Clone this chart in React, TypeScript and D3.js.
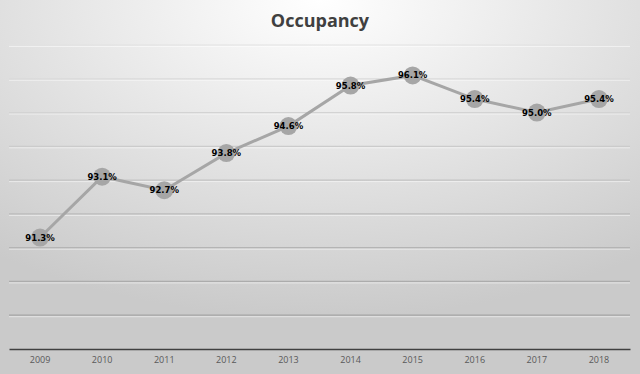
import * as d3 from 'd3';
import { useEffect, useRef } from 'react';

const years = ['2009', '2010', '2011', '2012', '2013', '2014', '2015', '2016', '2017', '2018'];
const occupancy = [91.3, 93.1, 92.7, 93.8, 94.6, 95.8, 96.1, 95.4, 95.0, 95.4];
const gridValues = [89, 90, 91, 92, 93, 94, 95, 96, 97];

const App = () => {
    const ref = useRef<SVGSVGElement>(null);
    useEffect(() => {
        const width = 640, height = 374;
        const margin = { top: 45, right: 10, bottom: 25, left: 9 };
        const svg = d3.select(ref.current);
        svg.selectAll('*').remove();

        // background gradient
        const defs = svg.append('defs');
        const grad = defs.append('radialGradient')
            .attr('id', 'bg')
            .attr('cx', '50%').attr('cy', '0%').attr('r', '85%')
            .attr('gradientUnits', 'objectBoundingBox');
        grad.append('stop').attr('offset', '0%').attr('stop-color', '#ffffff');
        grad.append('stop').attr('offset', '100%').attr('stop-color', '#cacaca');
        svg.append('rect').attr('width', width).attr('height', height).attr('fill', 'url(#bg)');

        const x: any = d3.scaleBand()
            .domain(years)
            .range([margin.left, width - margin.right]);
        const y = d3.scaleLinear()
            .domain([88, 97])
            .range([height - margin.bottom, margin.top]);

        // gridlines darken toward the bottom
        const gridColor = d3.scaleLinear<string>()
            .domain([97, 89])
            .range(['#e2e2e2', '#a4a4a4']);
        const grid = svg.append('g');
        grid.selectAll('line.hl')
            .data(gridValues)
            .enter().append('line')
            .attr('class', 'hl')
            .attr('x1', margin.left)
            .attr('x2', width - margin.right)
            .attr('y1', (d: number) => y(d) + 1.5)
            .attr('y2', (d: number) => y(d) + 1.5)
            .attr('stroke', '#ffffff')
            .attr('stroke-opacity', 0.5)
            .attr('stroke-width', 1);
        grid.selectAll('line.gl')
            .data(gridValues)
            .enter().append('line')
            .attr('class', 'gl')
            .attr('x1', margin.left)
            .attr('x2', width - margin.right)
            .attr('y1', (d: number) => y(d))
            .attr('y2', (d: number) => y(d))
            .attr('stroke', (d: number) => gridColor(d))
            .attr('stroke-width', 1.2);

        // x axis
        const xAxis = svg.append('g')
            .attr('transform', 'translate(0,' + (height - margin.bottom) + ')')
            .call(d3.axisBottom(x).tickSize(0).tickPadding(8));
        xAxis.select('.domain').attr('stroke', '#404040').attr('stroke-width', 1.5);
        xAxis.selectAll('text')
            .style('font-family', 'Open Sans, Liberation Sans, sans-serif')
            .style('font-size', '9px')
            .attr('fill', '#595959');

        // line
        const line = d3.line<number>()
            .x((_d, i) => x(years[i]) + x.bandwidth() / 2)
            .y(d => y(d));
        svg.append('path')
            .datum(occupancy)
            .attr('d', line)
            .attr('fill', 'none')
            .attr('stroke', '#a6a6a6')
            .attr('stroke-width', 3);

        svg.append('g')
            .selectAll('circle')
            .data(occupancy)
            .enter().append('circle')
            .attr('cx', (_d: number, i: number) => x(years[i]) + x.bandwidth() / 2)
            .attr('cy', (d: number) => y(d))
            .attr('r', 9)
            .attr('fill', '#a6a6a6');

        svg.append('g')
            .selectAll('text')
            .data(occupancy)
            .enter().append('text')
            .attr('x', (_d: number, i: number) => x(years[i]) + x.bandwidth() / 2)
            .attr('y', (d: number) => y(d) + 3)
            .attr('text-anchor', 'middle')
            .style('font-family', 'DejaVu Sans, sans-serif')
            .style('font-size', '8.5px')
            .style('font-weight', 'bold')
            .attr('fill', '#000')
            .text((d: number) => d.toFixed(1) + '%');

        // title
        svg.append('text')
            .attr('x', width / 2)
            .attr('y', 27)
            .attr('text-anchor', 'middle')
            .style('font-family', 'Open Sans, sans-serif')
            .style('font-size', '18px')
            .style('font-weight', 'bold')
            .attr('fill', '#404040')
            .text('Occupancy');
    }, []);
    return (
        <svg ref={ref} width={640} height={374} style={{ position: 'absolute', left: 0, top: 0 }}></svg>
    );
};

export default App;
